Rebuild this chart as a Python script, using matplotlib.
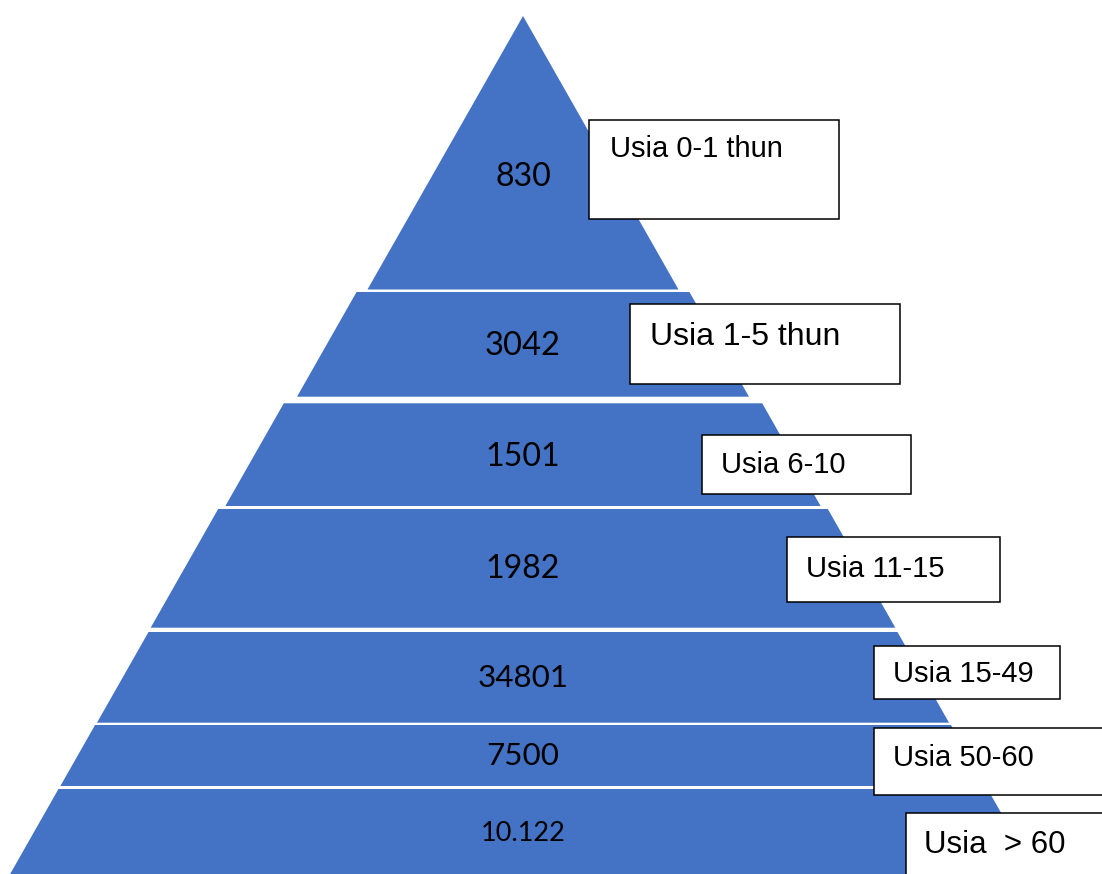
import matplotlib.pyplot as plt
from matplotlib.patches import Polygon, Rectangle

# data: value shown in each pyramid layer (top to bottom) and its age group
values = ["830", "3042", "1501", "1982", "34801", "7500", "10.122"]
age_groups = ["Usia 0-1 thun", "Usia 1-5 thun", "Usia 6-10", "Usia 11-15",
              "Usia 15-49", "Usia 50-60", "Usia  > 60"]

# layout of the pyramid (pixel space, y down)
apex_x, apex_y = 523, 16
slope = 0.5686
band_top = [16, 292, 403.3, 509, 632, 725, 789]
band_bot = [289.5, 396.7, 506, 627.7, 722.7, 786, 874]
band_pad = [0, 9.5, 19, 24.5, 24.2, 24.8, 25]
value_y = [186, 355, 466, 578.3, 687, 765, 840.7]
value_size = [23.1, 23.6, 23.1, 23.1, 22.6, 22.6, 19.5]

# label boxes: left, top, right, bottom; text anchor and size
box_rect = [(589, 120, 839, 219), (630, 304, 900, 384), (701.7, 435, 911, 494),
            (786.7, 537, 1000, 601.7), (874, 645.7, 1060, 699),
            (874, 728.3, 1115, 795), (905.7, 813.3, 1115, 890)]
label_x = [609.5, 649.5, 721, 806, 893, 893, 924.5]
label_y = [156.7, 345, 472.7, 576.7, 681.7, 765.7, 853.3]
label_size = [21, 23, 21, 21, 21, 21, 22.5]

blue = "#4472C4"

fig = plt.figure(figsize=(11.02, 8.74), dpi=100)
ax = fig.add_axes([0, 0, 1, 1])
ax.set_xlim(0, 1102)
ax.set_ylim(874, 0)
ax.axis("off")


def half_width(y, pad):
    return slope * (y - apex_y) + pad


for i in range(len(values)):
    t, b, p = band_top[i], band_bot[i], band_pad[i]
    wt, wb = half_width(t, p), half_width(b, p)
    pts = [(apex_x - wt, t), (apex_x + wt, t), (apex_x + wb, b), (apex_x - wb, b)]
    ax.add_patch(Polygon(pts, closed=True, facecolor=blue, edgecolor="none", zorder=1))
    ax.text(apex_x, value_y[i], values[i], ha="center", va="baseline",
            fontsize=value_size[i], family="Lato", color="black", zorder=2)

for i, lab in enumerate(age_groups):
    l, t, r, b = box_rect[i]
    ax.add_patch(Rectangle((l, t), r - l, b - t, facecolor="white",
                           edgecolor="black", linewidth=1.1, zorder=3))
    ax.text(label_x[i], label_y[i], lab, ha="left", va="baseline",
            fontsize=label_size[i], family="Liberation Sans", color="black", zorder=4)

fig.savefig("out.png", dpi=100)
